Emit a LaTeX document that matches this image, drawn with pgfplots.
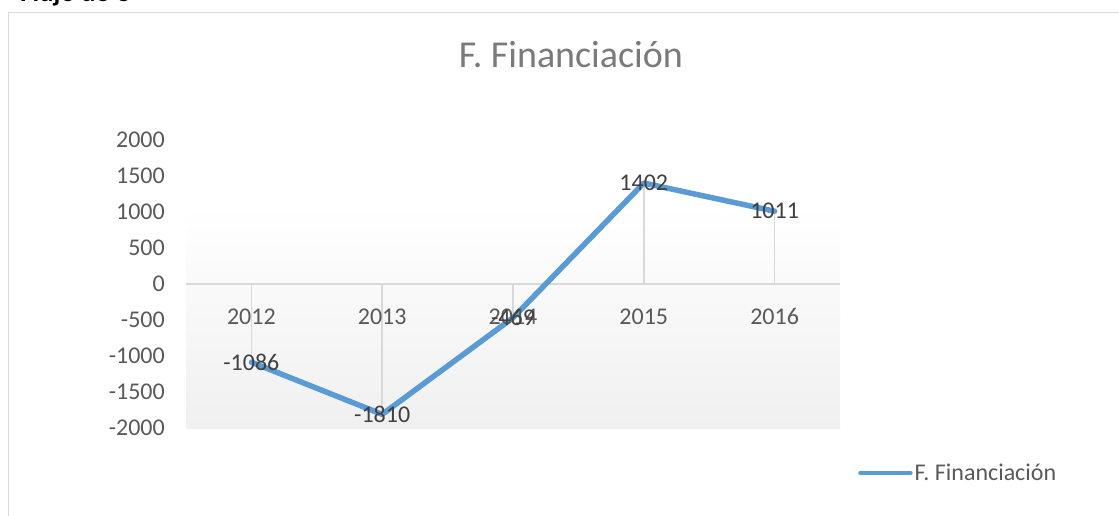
\documentclass[border=0pt]{standalone}
\usepackage{pgfplots}
\pgfplotsset{compat=1.18}
\usepackage{fontspec}
\setmainfont{Carlito}
\definecolor{lineblue}{HTML}{5B9BD5}
\definecolor{txt}{HTML}{595959}
\definecolor{lbl}{HTML}{404040}
\definecolor{titlegray}{HTML}{7A7A7A}
\definecolor{gridc}{HTML}{D9D9D9}
\definecolor{bgbot}{HTML}{F0F0F0}
\begin{document}
\begin{tikzpicture}[x=1pt,y=1pt]
\useasboundingbox (0,0) rectangle (1119,515);
\fill[white] (0,0) rectangle (1119,515);
\begin{scope}
\clip (0,0) rectangle (1119,515);
\draw[gridc, line width=1.5pt] (8.5,-5) -- (8.5,502.5) -- (1125,502.5);
\node[anchor=base west, font=\fontsize{27}{30}\selectfont\bfseries, inner sep=0] at (20,513.5) {Flujo de C};
\end{scope}
\node[font=\fontsize{38}{44}\selectfont, text=titlegray] at (571,460) {F. Financiación};
\begin{axis}[
  axis on top,
  at={(186pt,87pt)}, anchor=south west,
  width=654pt, height=288pt, scale only axis,
  xmin=-0.5, xmax=4.5, ymin=-2000, ymax=2000,
  ytick={-2000,-1500,...,2000},
  xtick={0,1,2,3,4},
  xticklabels={2012,2013,2014,2015,2016},
  axis line style={draw=none},
  major tick length=0pt, tick style={draw=none},
  ticklabel style={font=\fontsize{24}{28}\selectfont, text=txt},
  yticklabel style={anchor=east, inner sep=0pt, xshift=-21pt},
  xticklabel style={anchor=north, inner sep=0pt, yshift=119.5pt},
  /pgf/number format/assume math mode=true,
  /pgf/number format/1000 sep={},
  clip=false,
  legend style={at={(1.0275,-0.156)}, anchor=west, draw=none, fill=none,
    font=\fontsize{24}{28}\selectfont, text=txt, inner sep=0pt},
  legend image code/.code={\draw[#1, line width=4.5pt, line cap=round] (0pt,0pt) -- (50pt,0pt);},
]
\addplot[draw=none, top color=white, bottom color=bgbot, forget plot]
  coordinates {(-0.5,1083) (4.5,1083) (4.5,-2000) (-0.5,-2000)} -- cycle;
\draw[gridc, line width=1.5pt] (axis cs:-0.5,0) -- (axis cs:4.5,0);
\addplot[ycomb, draw=gridc, line width=1.5pt, forget plot] coordinates {(0,-1086) (1,-1810) (2,-469) (3,1402) (4,1011)};
\addplot[lineblue, line width=5.5pt, line join=round, line cap=round,
  nodes near coords,
  nodes near coords style={anchor=center, inner sep=0pt, font=\fontsize{24}{28}\selectfont, text=lbl}]
  coordinates {(0,-1086) (1,-1810) (2,-469) (3,1402) (4,1011)};
\addlegendentry{F. Financiación}
\end{axis}
\end{tikzpicture}
\end{document}
